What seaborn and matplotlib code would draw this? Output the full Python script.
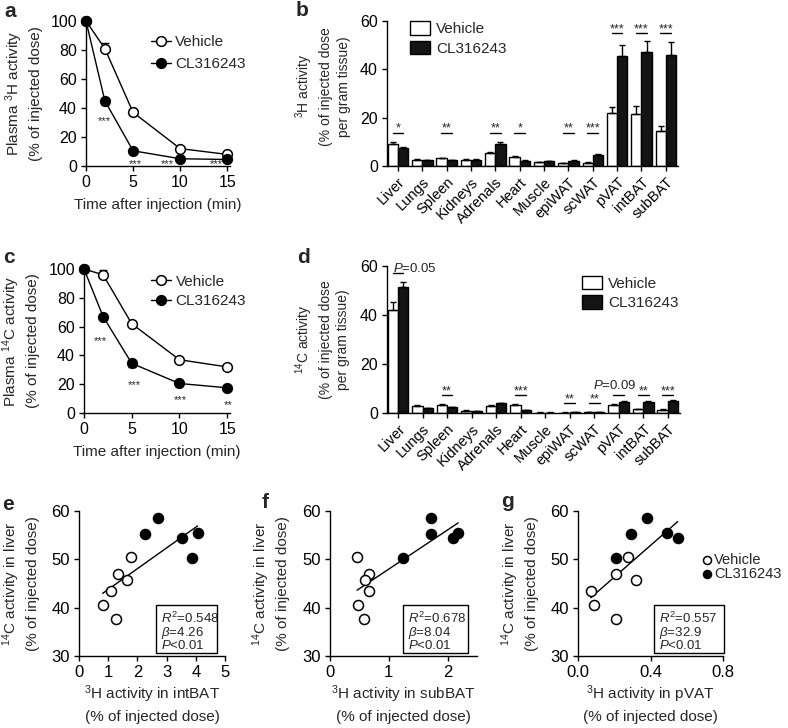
import numpy as np
import pandas as pd
import seaborn as sns
import matplotlib.pyplot as plt
from matplotlib.patches import Rectangle

sns.set_style("ticks")
plt.rcParams['font.family'] = ['Liberation Sans', 'DejaVu Sans']
plt.rcParams['mathtext.fontset'] = 'custom'
plt.rcParams['mathtext.rm'] = 'Liberation Sans'
plt.rcParams['mathtext.it'] = 'Liberation Sans:italic'
plt.rcParams['axes.linewidth'] = 1
plt.rcParams['xtick.major.width'] = 1
plt.rcParams['ytick.major.width'] = 1
plt.rcParams['xtick.major.size'] = 3.5
plt.rcParams['ytick.major.size'] = 3.5
plt.rcParams['xtick.color'] = 'black'
plt.rcParams['ytick.color'] = 'black'
plt.rcParams['axes.edgecolor'] = 'black'

# --- plasma time courses (a, c)
times = [0, 2, 5, 10, 15]
h3_plasma_veh = [100, 81, 37, 12, 8]
h3_plasma_veh_err = [0, 4, 2, 1, 1]
h3_plasma_cl = [100, 45, 10.5, 5, 4.5]
h3_plasma_cl_err = [0, 3, 1, 0.5, 0.5]
h3_star_x = [1.9, 5.2, 8.6, 13.8]
h3_star_y = [31, 1.5, 1.5, 1.5]
h3_star_txt = ["***", "***", "***", "***"]

c14_plasma_veh = [100, 96, 62, 37, 32]
c14_plasma_veh_err = [0, 3.5, 1, 1, 1]
c14_plasma_cl = [100, 67, 34.5, 20.5, 17.5]
c14_plasma_cl_err = [0, 2, 2.5, 1, 1.5]
c14_star_x = [1.7, 5.3, 10.1, 15.1]
c14_star_y = [50, 19.5, 9, 5.5]
c14_star_txt = ["***", "***", "***", "**"]

# --- tissue uptake (b, d)
organs = ["Liver", "Lungs", "Spleen", "Kidneys", "Adrenals", "Heart", "Muscle",
          "epiWAT", "scWAT", "pVAT", "intBAT", "subBAT"]
h3_tissue_veh = [9.2, 2.6, 3.2, 2.6, 5.5, 3.7, 1.7, 1.1, 1.4, 22.0, 21.4, 14.5]
h3_tissue_veh_err = [0.9, 0.2, 0.2, 0.2, 0.5, 0.3, 0.1, 0.1, 0.2, 2.4, 3.4, 2.0]
h3_tissue_cl = [7.3, 2.3, 2.3, 2.5, 9.2, 2.2, 1.9, 2.2, 4.7, 45.4, 47.2, 45.8]
h3_tissue_cl_err = [0.4, 0.2, 0.2, 0.2, 0.7, 0.2, 0.1, 0.2, 0.3, 4.6, 4.5, 5.5]
h3_sig = ["*", "", "**", "", "**", "*", "", "**", "***", "***", "***", "***"]

c14_tissue_veh = [42, 3.0, 3.4, 1.0, 3.0, 3.3, 0.2, 0.2, 0.3, 3.3, 1.6, 1.4]
c14_tissue_veh_err = [3.2, 0.2, 0.2, 0.1, 0.2, 0.2, 0.02, 0.02, 0.05, 0.4, 0.2, 0.2]
c14_tissue_cl = [51.5, 2.0, 2.3, 0.7, 3.9, 1.1, 0.2, 0.3, 0.5, 4.4, 4.4, 4.9]
c14_tissue_cl_err = [2.0, 0.2, 0.2, 0.1, 0.2, 0.2, 0.02, 0.03, 0.05, 0.3, 0.3, 0.3]
c14_sig = ["", "", "**", "", "", "***", "", "**", "**", "", "**", "***"]

# --- liver 14C vs 3H in BAT/pVAT (e, f, g)
liver_veh = [40.5, 43.5, 46.9, 45.8, 50.5, 37.6]
liver_cl = [55.3, 58.6, 54.4, 50.2, 55.5]
intbat_veh = [0.81, 1.10, 1.33, 1.64, 1.78, 1.26]
intbat_cl = [2.25, 2.72, 3.52, 3.87, 4.06]
subbat_veh = [0.47, 0.66, 0.66, 0.60, 0.46, 0.57]
subbat_cl = [1.71, 1.71, 2.10, 1.24, 2.18]
pvat_veh = [0.09, 0.07, 0.21, 0.32, 0.275, 0.21]
pvat_cl = [0.29, 0.38, 0.55, 0.21, 0.49]
stats_e = ["0.548", "4.26", "0.01"]
stats_f = ["0.678", "8.04", "0.01"]
stats_g = ["0.557", "32.9", "0.01"]

W, H = 788, 728
fig = plt.figure(figsize=(W / 100, H / 100), dpi=100)


def add_ax(x0, x1, ytop, ybot):
    return fig.add_axes([x0 / W, 1 - ybot / H, (x1 - x0) / W, (ybot - ytop) / H])


def time_panel(ax, veh, veh_err, cl, cl_err, sx, sy, stxt, ylabel):
    n = len(times)
    ax.errorbar(times, veh, yerr=[np.zeros(n), veh_err], fmt='none', ecolor='black',
                elinewidth=1, capsize=3, capthick=1, zorder=2, clip_on=False)
    ax.errorbar(times, cl, yerr=[cl_err, np.zeros(n)], fmt='none', ecolor='black',
                elinewidth=1, capsize=3, capthick=1, zorder=2, clip_on=False)
    sns.lineplot(x=times, y=veh, ax=ax, color='black', lw=1, marker='o', markersize=7,
                 markerfacecolor='white', markeredgecolor='black', markeredgewidth=1.1,
                 label='Vehicle', clip_on=False, zorder=3, errorbar=None)
    sns.lineplot(x=times, y=cl, ax=ax, color='black', lw=1, marker='o', markersize=7,
                 markerfacecolor='black', markeredgecolor='black', markeredgewidth=1.1,
                 label='CL316243', clip_on=False, zorder=3, errorbar=None)
    for x, y, t in zip(sx, sy, stxt):
        ax.text(x, y, t, ha='center', va='center', fontsize=8)
    ax.set_xlim(0, 15.3)
    ax.set_ylim(0, 100)
    ax.set_xticks([0, 5, 10, 15])
    ax.set_yticks([0, 20, 40, 60, 80, 100])
    ax.tick_params(labelsize=11.5, pad=3)
    ax.set_xlabel("Time after injection (min)", fontsize=11, labelpad=6)
    ax.set_ylabel(ylabel, fontsize=11, linespacing=1.35)
    ax.yaxis.set_label_coords(-0.30, 0.5)
    sns.despine(ax=ax)


def tissue_panel(ax, veh, veh_err, cl, cl_err, sig, small_y, big_y, low_y, ylabel):
    df = pd.DataFrame({"organ": organs * 2, "value": veh + cl,
                       "group": ["Vehicle"] * len(organs) + ["CL316243"] * len(organs)})
    sns.barplot(data=df, x="organ", y="value", hue="group", palette=["white", "#141414"],
                edgecolor="black", linewidth=1, width=0.84, saturation=1,
                errorbar=None, ax=ax)
    for cont, vals, errs in zip(ax.containers, [veh, cl], [veh_err, cl_err]):
        xs = [p.get_x() + p.get_width() / 2 for p in cont]
        ax.errorbar(xs, vals, yerr=[np.zeros(len(vals)), errs], fmt='none', ecolor='black',
                    elinewidth=1, capsize=2.5, capthick=1, zorder=3)
    for i, lab in enumerate(sig):
        if not lab:
            continue
        top = max(veh[i] + veh_err[i], cl[i] + cl_err[i])
        if top < 1:
            y = low_y
        elif top < 20:
            y = small_y
        else:
            y = big_y
        ax.plot([i - 0.22, i + 0.22], [y, y], color='black', lw=1)
        ax.text(i, y + 0.4, lab, ha='center', va='baseline', fontsize=9)
    ax.set_xlim(-0.45, 11.5)
    ax.set_ylim(0, 60)
    ax.set_yticks([0, 20, 40, 60])
    ax.set_xlabel("")
    ax.tick_params(labelsize=11.5, pad=3)
    ax.set_xticks(range(len(organs)))
    ax.set_xticklabels(organs, rotation=45, ha='right', rotation_mode='anchor', fontsize=10.5)
    ax.set_ylabel(ylabel, fontsize=10, linespacing=1.35)
    ax.yaxis.set_label_coords(-0.125, 0.55)
    sns.despine(ax=ax)


def scatter_panel(ax, xv, xc, stats, xlim, xticks, xlabel, box_px, ax_px):
    sns.regplot(x=np.array(xv + xc), y=np.array(liver_veh + liver_cl), ax=ax, scatter=False,
                ci=None, truncate=True, color='black', line_kws={'lw': 1, 'zorder': 2})
    sns.scatterplot(x=xv, y=liver_veh, ax=ax, s=52, color='white', edgecolor='black',
                    linewidth=1.1, zorder=3, clip_on=False, label='Vehicle')
    sns.scatterplot(x=xc, y=liver_cl, ax=ax, s=52, color='black', edgecolor='black',
                    linewidth=1.1, zorder=3, clip_on=False, label='CL316243')
    ax.set_xlim(*xlim)
    ax.set_ylim(30, 60)
    ax.set_xticks(xticks)
    ax.set_yticks([30, 40, 50, 60])
    ax.tick_params(labelsize=12, pad=3)
    ax.set_xlabel(xlabel, fontsize=11, linespacing=1.45)
    ax.xaxis.set_label_coords(0.5, -0.19)
    ax.xaxis.label.set_va('top')
    ax.set_ylabel("$^{14}$C activity in liver\n(% of injected dose)", fontsize=11,
                  linespacing=1.35)
    ax.yaxis.set_label_coords(-0.27, 0.5)
    sns.despine(ax=ax)
    # stats box
    x0, x1 = ax_px
    bl, br = box_px
    fl, fr = (bl - x0) / (x1 - x0), (br - x0) / (x1 - x0)
    ax.add_patch(Rectangle((fl, 0.02), fr - fl, 0.33, transform=ax.transAxes, fill=False,
                           ec='black', lw=1, clip_on=False, zorder=4))
    tx = fl + 0.035
    ax.text(tx, 0.262, "$R^2$=" + stats[0], transform=ax.transAxes, fontsize=9.5, va='center')
    ax.text(tx, 0.16, r"$\beta$=" + stats[1], transform=ax.transAxes, fontsize=9.5, va='center')
    ax.text(tx, 0.07, "$P$<" + stats[2], transform=ax.transAxes, fontsize=9.5, va='center')


# a
ax_a = add_ax(86, 230, 21, 166)
time_panel(ax_a, h3_plasma_veh, h3_plasma_veh_err, h3_plasma_cl, h3_plasma_cl_err,
           h3_star_x, h3_star_y, h3_star_txt, "Plasma $^3$H activity\n(% of injected dose)")
ax_a.legend(frameon=False, loc='upper left', bbox_to_anchor=(0.45, 0.90), fontsize=11,
            handlelength=1.3, handletextpad=0.3, labelspacing=0.5, borderpad=0, borderaxespad=0)

# c
ax_c = add_ax(84, 230, 269, 413)
time_panel(ax_c, c14_plasma_veh, c14_plasma_veh_err, c14_plasma_cl, c14_plasma_cl_err,
           c14_star_x, c14_star_y, c14_star_txt, "Plasma $^{14}$C activity\n(% of injected dose)")
ax_c.legend(frameon=False, loc='upper left', bbox_to_anchor=(0.46, 0.96), fontsize=11,
            handlelength=1.3, handletextpad=0.3, labelspacing=0.35, borderpad=0, borderaxespad=0)

# b
ax_b = add_ax(387, 678, 21, 166)
tissue_panel(ax_b, h3_tissue_veh, h3_tissue_veh_err, h3_tissue_cl, h3_tissue_cl_err, h3_sig,
             13.7, 55, 13.7, "$^3$H activity\n(% of injected dose\nper gram tissue)")
hb, lb = ax_b.get_legend_handles_labels()
ax_b.legend(hb, lb, frameon=False, loc='upper left', bbox_to_anchor=(0.08, 1.0), fontsize=11,
            handlelength=1.3, handleheight=1.0, handletextpad=0.4, labelspacing=0.3,
            borderpad=0, borderaxespad=0)

# d
ax_d = add_ax(387, 680, 266, 413)
tissue_panel(ax_d, c14_tissue_veh, c14_tissue_veh_err, c14_tissue_cl, c14_tissue_cl_err, c14_sig,
             7.3, 57.1, 4.0, "$^{14}$C activity\n(% of injected dose\nper gram tissue)")
ax_d.yaxis.set_label_coords(-0.125, 0.5)
ax_d.plot([-0.22, 0.22], [57.1, 57.1], color='black', lw=1)
ax_d.text(-0.22, 57.6, "$P$=0.05", ha='left', va='baseline', fontsize=9.5)
ax_d.plot([9 - 0.22, 9 + 0.22], [7.3, 7.3], color='black', lw=1)
ax_d.text(8.85, 9.6, "$P$=0.09", ha='center', va='baseline', fontsize=9.5)
hd, ld = ax_d.get_legend_handles_labels()
ax_d.legend(hd, ld, frameon=False, loc='upper left', bbox_to_anchor=(0.665, 0.935), fontsize=11,
            handlelength=1.3, handleheight=1.0, handletextpad=0.4, labelspacing=0.3,
            borderpad=0, borderaxespad=0)

# e, f, g
ax_e = add_ax(79, 225, 511, 656)
scatter_panel(ax_e, intbat_veh, intbat_cl, stats_e, (0, 5), [0, 1, 2, 3, 4, 5],
              "$^3$H activity in intBAT\n(% of injected dose)", (156, 217), (79, 225))
ax_e.get_legend().remove()
ax_f = add_ax(330, 477, 511, 656)
scatter_panel(ax_f, subbat_veh, subbat_cl, stats_f, (0, 2.5), [0, 1, 2],
              "$^3$H activity in subBAT\n(% of injected dose)", (403, 468), (330, 477))
ax_f.get_legend().remove()
ax_g = add_ax(578, 723, 511, 656)
scatter_panel(ax_g, pvat_veh, pvat_cl, stats_g, (0, 0.8), [0.0, 0.4, 0.8],
              "$^3$H activity in pVAT\n(% of injected dose)", (654, 724), (578, 723))
ax_g.set_xticklabels(["0.0", "0.4", "0.8"])
ax_g.legend(frameon=False, loc='upper left', bbox_to_anchor=(0.86, 0.71), fontsize=10.5,
            handlelength=0.6, handletextpad=0.2, labelspacing=0.0, borderpad=0, borderaxespad=0,
            markerscale=0.8)

# panel letters
for letter, x, y in [("a", 4, 17), ("b", 296, 16), ("c", 3, 263), ("d", 297, 263),
                     ("e", 2, 510), ("f", 262, 508), ("g", 501, 507)]:
    fig.text(x / W, 1 - y / H, letter, fontsize=15, fontweight='bold', va='baseline', ha='left')

fig.savefig("out.png", dpi=100)
